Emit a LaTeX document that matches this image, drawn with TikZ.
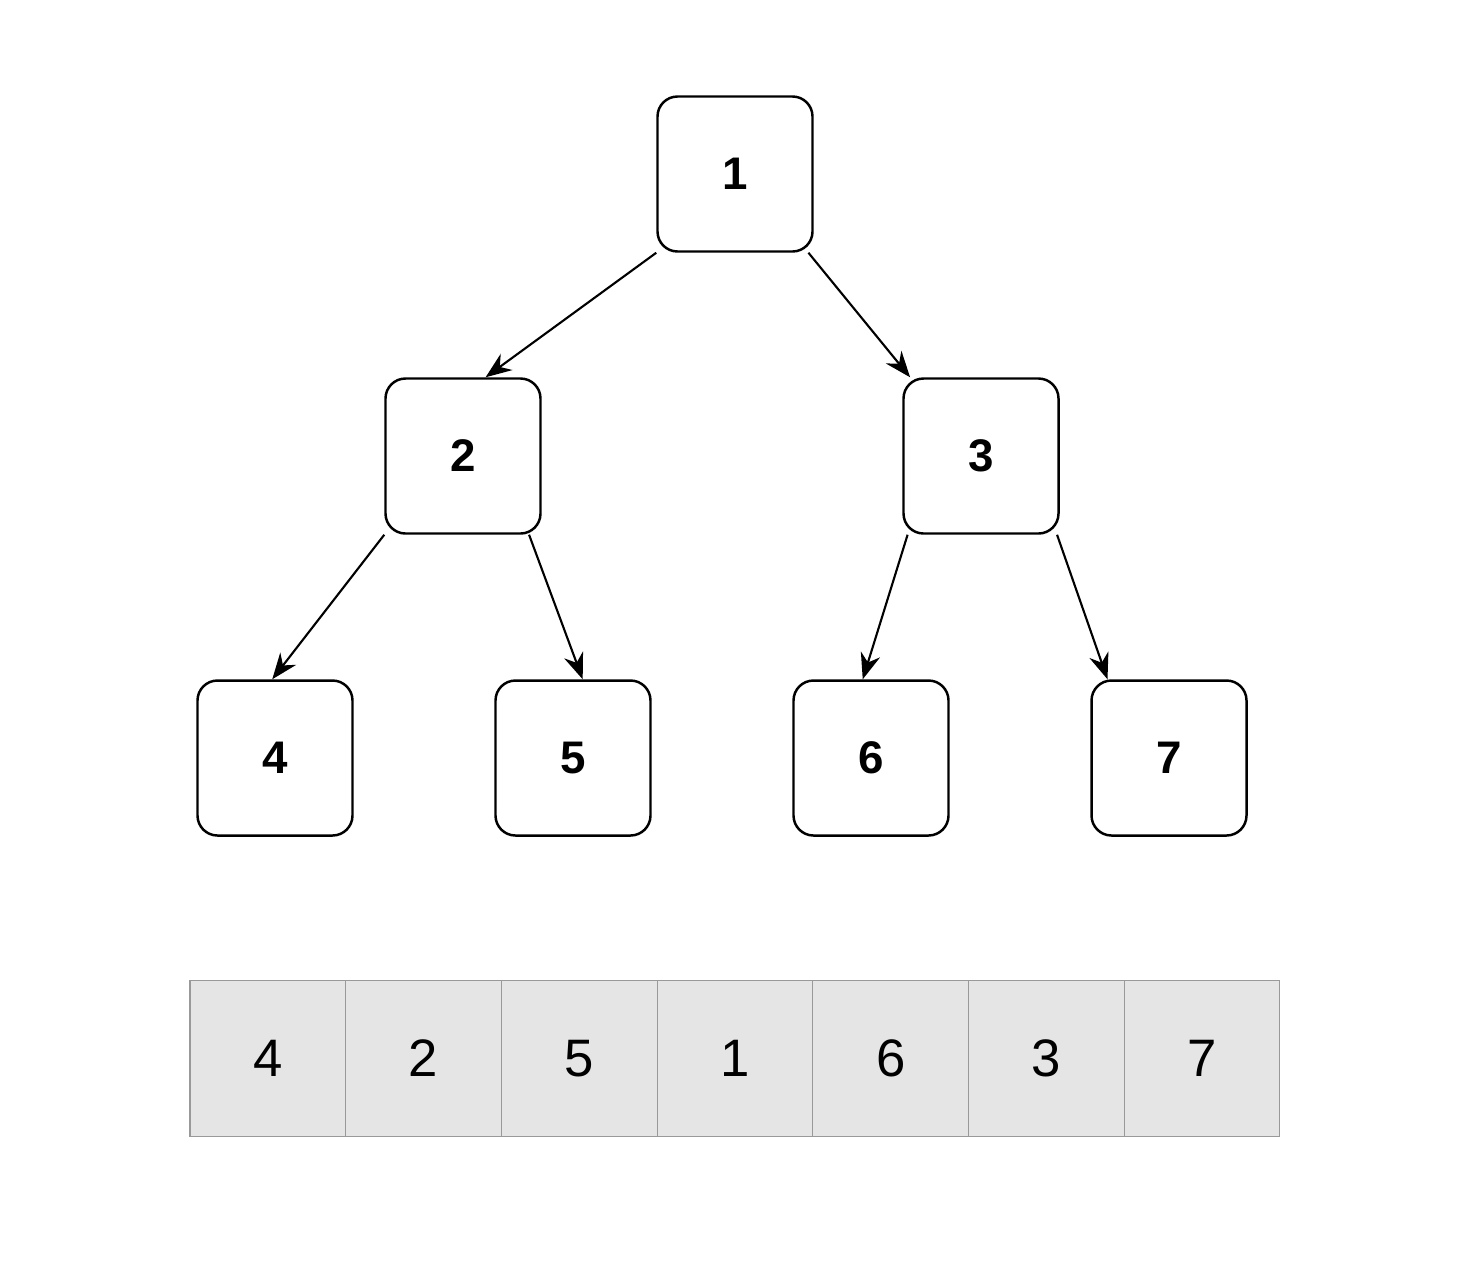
\documentclass[tikz,border=0pt]{standalone}
\usepackage{fontspec}
\setmainfont{Liberation Sans}
\usetikzlibrary{arrows.meta}

\tikzset{
  treenode/.style={draw, line width=0.7pt, rounded corners=0.2cm, minimum size=1.55cm,
    inner sep=0pt, font=\fontsize{13}{15}\selectfont\bfseries},
  cell/.style={draw=gray!80, fill=gray!20, line width=0.3pt, minimum size=1.557cm,
    inner sep=0pt, font=\fontsize{15}{17}\selectfont},
  edge/.style={-{Stealth[length=2.6mm,width=2mm]}, line width=0.6pt}
}

\begin{document}
\begin{tikzpicture}
  \useasboundingbox (0,0) rectangle (14.7,-12.78);

  %tree
  \node[treenode] (n1) at (7.35,-1.74) {1};
  \node[treenode] (n2) at (4.63,-4.56) {2};
  \node[treenode] (n3) at (9.81,-4.56) {3};
  \node[treenode] (n4) at (2.75,-7.58) {4};
  \node[treenode] (n5) at (5.73,-7.58) {5};
  \node[treenode] (n6) at (8.71,-7.58) {6};
  \node[treenode] (n7) at (11.69,-7.58) {7};

  %edges
  \draw[edge] (n1.225) -- (n2.74);
  \draw[edge] (n1.313) -- (n3.132);
  \draw[edge] (n2.225) -- (n4.92);
  \draw[edge] (n2.310) -- (n5.83);
  \draw[edge] (n3.227) -- (n6.96);
  \draw[edge] (n3.314) -- (n7.128);

  %array
  \foreach \v [count=\i] in {4,2,5,1,6,3,7}
    \node[cell] (a\i) at ({1.9+0.7785+(\i-1)*1.557},-10.585) {\v};

\end{tikzpicture}
\end{document}
